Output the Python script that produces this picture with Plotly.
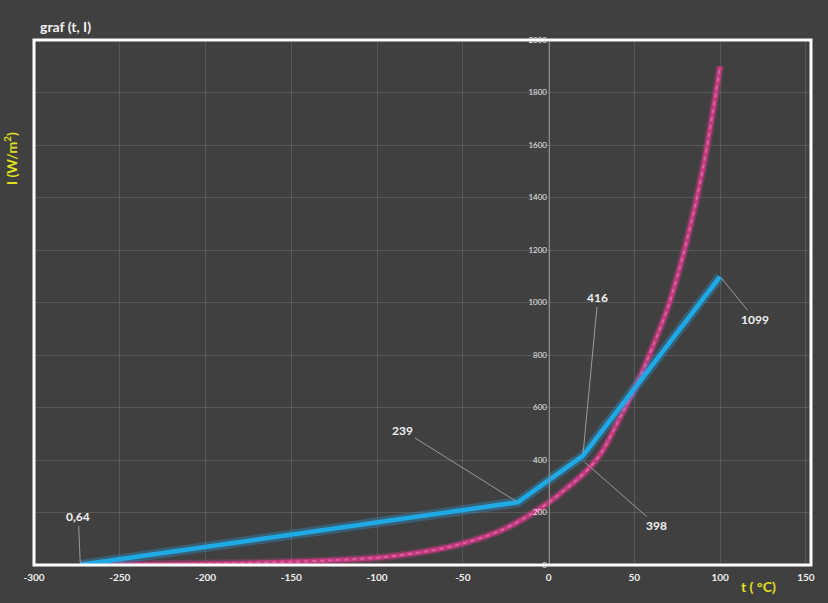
import plotly.graph_objects as go

# Data
t_blue = [-273, -18, 20, 100]
I_blue = [0.64, 239, 416, 1099]

t_pink = [-273, -250, -200, -150, -100, -75, -50, -25, 0, 10, 20, 30, 40, 50, 60, 70, 80, 90, 100]
I_pink = [1, 2, 5, 12, 28, 48, 82, 140, 238, 290, 345, 420, 540, 670, 820, 990, 1220, 1510, 1900]

x_ticks = [-300, -250, -200, -150, -100, -50, 0, 50, 100, 150]
y_ticks = [0, 200, 400, 600, 800, 1000, 1200, 1400, 1600, 1800, 2000]

labels_t = [-273, -18, 20, 20, 100]
labels_I = [0.64, 239, 416, 398, 1099]
labels_txt = ["0,64", "239", "416", "398", "1099"]
labels_off = [(-2, -48), (-115, -72), (15, -158), (74, 65), (35, 43)]

BG = "#404040"
FONT = "Lato"

fig = go.Figure()

# pink curve: base + lighter dashes
fig.add_trace(go.Scatter(x=t_pink, y=I_pink, mode="lines",
                         line=dict(color="rgba(214,64,138,0.3)", width=8, shape="spline"),
                         hoverinfo="skip"))
fig.add_trace(go.Scatter(x=t_pink, y=I_pink, mode="lines",
                         line=dict(color="#c43a7f", width=4.5, shape="spline")))
fig.add_trace(go.Scatter(x=t_pink, y=I_pink, mode="lines",
                         line=dict(color="#d9619c", width=2, shape="spline", dash="4px,4px")))

# blue line with glow
fig.add_trace(go.Scatter(x=t_blue, y=I_blue, mode="lines",
                         line=dict(color="rgba(40,170,235,0.3)", width=10),
                         hoverinfo="skip"))
fig.add_trace(go.Scatter(x=t_blue, y=I_blue, mode="lines",
                         line=dict(color="#1eaae6", width=4.5)))

for t, v, s, (ax, ay) in zip(labels_t, labels_I, labels_txt, labels_off):
    fig.add_annotation(x=t, y=v, xref="x", yref="y", text="<b>" + s + "</b>", showarrow=True,
                       ax=ax, ay=ay, arrowhead=0, arrowwidth=1, arrowcolor="#9a9a9a",
                       standoff=2,
                       font=dict(family=FONT, size=12, color="#f2f2f2"))

xr = [-300, 153]
fig.update_layout(
    width=828, height=603,
    paper_bgcolor=BG, plot_bgcolor=BG,
    margin=dict(l=34, r=17, t=40, b=38),
    showlegend=False,
    font=dict(family=FONT, color="#f0f0f0"),
    xaxis=dict(range=xr, tickvals=x_ticks, ticktext=["<b>%d</b>" % v for v in x_ticks],
               showgrid=True, gridcolor="rgba(255,255,255,0.12)", gridwidth=1,
               zeroline=False, showline=False, ticks="", ticklabelstandoff=5,
               tickfont=dict(family=FONT, size=10, color="#f0f0f0")),
    yaxis=dict(range=[0, 2000], tickvals=y_ticks, ticktext=[str(v) for v in y_ticks],
               showgrid=True, gridcolor="rgba(255,255,255,0.12)", gridwidth=1,
               zeroline=False, showline=True, linecolor="#8c8c8c", linewidth=1,
               anchor="free", position=(0 - xr[0]) / (xr[1] - xr[0]),
               ticks="", tickfont=dict(family=FONT, size=8, color="#e6e6e6")),
    title=dict(text="<b>graf (t, I)</b>", x=40 / 828, xanchor="left",
               y=1 - 27 / 603, yanchor="middle",
               font=dict(family=FONT, size=14, color="#f2f2f2")),
)

fig.add_shape(type="rect", xref="paper", yref="paper", x0=0, x1=1, y0=0, y1=1,
              line=dict(color="white", width=3), layer="above")

fig.add_annotation(xref="paper", yref="paper", x=-0.031, y=0.775, xanchor="center",
                   yanchor="middle",
                   text="<b>I (W/m<sup>2</sup>)</b>", textangle=-90, showarrow=False,
                   font=dict(family=FONT, size=14, color="#e0e020"))
fig.add_annotation(xref="paper", yref="paper", x=0.932, y=-0.04, xanchor="center",
                   yanchor="middle",
                   text="<b>t ( °C)</b>", showarrow=False,
                   font=dict(family=FONT, size=14, color="#e0e020"))

fig.write_html("out.html", config={"displayModeBar": False},
               post_script="document.body.style.margin='0';document.body.style.background='#404040';")
